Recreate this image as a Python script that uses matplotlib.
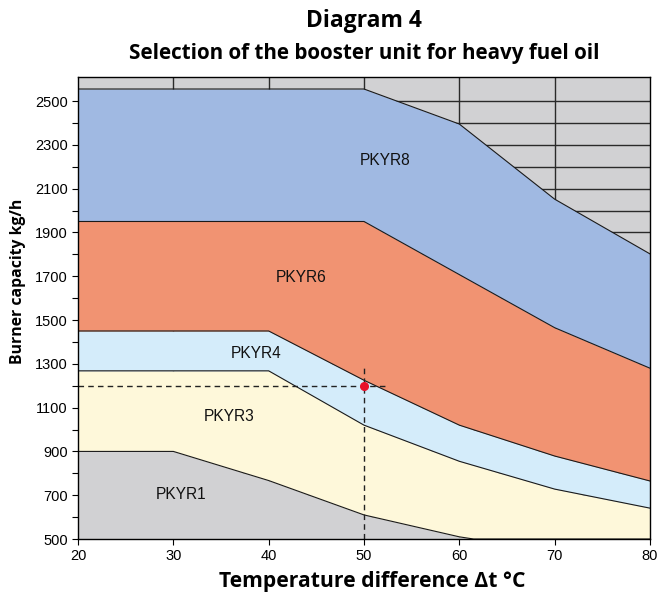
import matplotlib
matplotlib.use("Agg")
import matplotlib.pyplot as plt
import numpy as np

# Boundary curves (x = temperature difference, y = burner capacity kg/h)
x_pkyr1 = [20, 30, 40, 50, 60, 61.5, 80]
y_pkyr1 = [900, 900, 767, 610, 510, 500, 500]

x_pkyr3 = [20, 40, 50, 60, 70, 80]
y_pkyr3 = [1268, 1268, 1020, 855, 728, 641]

x_pkyr4 = [20, 40, 50, 60, 70, 80]
y_pkyr4 = [1450, 1450, 1225, 1020, 879, 765]

x_pkyr6 = [20, 50, 70, 80]
y_pkyr6 = [1950, 1950, 1465, 1280]

x_pkyr8 = [20, 50, 60, 70, 80]
y_pkyr8 = [2555, 2555, 2395, 2052, 1802]

region_names = ["PKYR1", "PKYR3", "PKYR4", "PKYR6", "PKYR8"]
region_colors = ["#d1d1d3", "#fef8da", "#d4ecfa", "#f19372", "#a0b9e2"]
label_x = [30.8, 35.9, 38.7, 43.4, 52.2]
label_y = [705, 1058, 1348, 1695, 2228]

example_x = 50
example_y = 1200
hline_xmax = 52.3
vline_ymax = 1295

xticks = [20, 30, 40, 50, 60, 70, 80]
yticks = [500, 700, 900, 1100, 1300, 1500, 1700, 1900, 2100, 2300, 2500]

fig = plt.figure(figsize=(6.59, 5.92), dpi=100)
ax = fig.add_axes([0.1184, 0.0895, 0.8679, 0.7805])
ax.set_facecolor("#d1d1d3")

ax.set_xlim(20, 80)
ax.set_ylim(500, 2610)

# grid behind fills
for gx in np.arange(30, 80, 10):
    ax.axvline(gx, color="#2a2a2a", lw=1.0, zorder=0.5)
for gy in np.arange(600, 2501, 100):
    ax.axhline(gy, color="#2a2a2a", lw=1.0, zorder=0.5)

xs = np.linspace(20, 80, 601)
curves = [(x_pkyr1, y_pkyr1), (x_pkyr3, y_pkyr3), (x_pkyr4, y_pkyr4),
          (x_pkyr6, y_pkyr6), (x_pkyr8, y_pkyr8)]
interp = [np.interp(xs, cx, cy) for cx, cy in curves]
lower = np.full_like(xs, 500.0)
for i, (name, col) in enumerate(zip(region_names, region_colors)):
    upper = interp[i]
    ax.fill_between(xs, lower, upper, color=col, lw=0, zorder=1)
    lower = upper
for cx, cy in curves:
    ax.plot(cx, cy, color="#1a1a1a", lw=0.8, zorder=2)

for name, lx, ly in zip(region_names, label_x, label_y):
    ax.text(lx, ly, name, ha="center", va="center", fontsize=11.2,
            family="Liberation Sans", color="#111111", zorder=4)

# example reading
ax.plot([20, hline_xmax], [example_y, example_y], color="#222222", lw=1.0,
        ls=(0, (4, 3)), zorder=3)
ax.plot([example_x, example_x], [500, vline_ymax], color="#222222", lw=1.0,
        ls=(0, (4, 3)), zorder=3)
ax.plot([example_x], [example_y], "o", color="#e8102a", ms=5.5, zorder=5)

ax.set_xticks(xticks)
ax.set_yticks(yticks)
ax.set_yticks(np.arange(600, 2401, 200), minor=True)
ax.tick_params(axis="both", labelsize=10.5, direction="out", length=4, width=0.8)
ax.tick_params(axis="y", which="minor", length=4, width=0.8)
for lab in ax.get_xticklabels() + ax.get_yticklabels():
    lab.set_family("Liberation Sans")
for sp in ax.spines.values():
    sp.set_linewidth(1.0)
    sp.set_zorder(6)

fig.text(0.5645, 0.0085, "Temperature difference Δt °C", ha="center",
         va="baseline", fontsize=15.2, fontweight="bold", family="Open Sans")
fig.text(0.027, 0.524, "Burner capacity kg/h", ha="center", va="center",
         rotation=90, fontsize=11.3, fontweight="bold", family="Open Sans")

fig.text(0.553, 0.965, "Diagram 4", ha="center", va="center", fontsize=16.5,
         fontweight="bold", family="Open Sans")
fig.text(0.553, 0.909, "Selection of the booster unit for heavy fuel oil",
         ha="center", va="center", fontsize=14.9, fontweight="bold",
         family="Open Sans")

fig.savefig("out.png", dpi=100)
